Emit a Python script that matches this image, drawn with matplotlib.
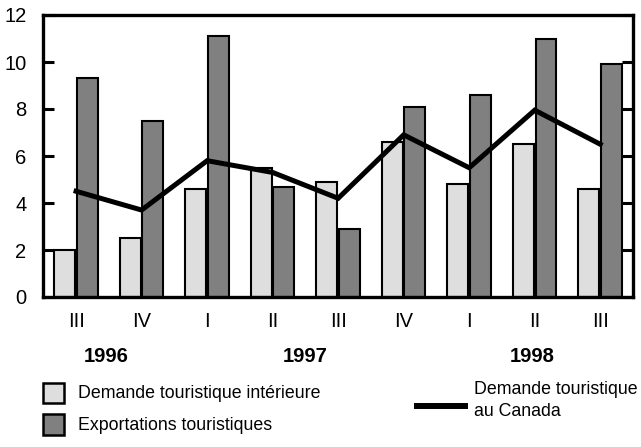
import numpy as np
import matplotlib
matplotlib.use("Agg")
import matplotlib.pyplot as plt
from matplotlib.patches import Rectangle
from matplotlib.lines import Line2D

plt.rcParams['font.family'] = ['Liberation Sans', 'DejaVu Sans']

quarters = ['III', 'IV', 'I', 'II', 'III', 'IV', 'I', 'II', 'III']
years = ['1996', '1997', '1998']
interieure = [2.0, 2.5, 4.6, 5.5, 4.9, 6.6, 4.8, 6.5, 4.6]
exportations = [9.3, 7.5, 11.1, 4.7, 2.9, 8.1, 8.6, 11.0, 9.9]
demande_canada = [4.5, 3.7, 5.8, 5.3, 4.2, 6.9, 5.5, 7.95, 6.5]

W, H = 641, 447
fig = plt.figure(figsize=(W / 100, H / 100), dpi=100)
ax = fig.add_axes([43 / W, 1 - 297 / H, (633 - 43) / W, (297 - 15) / H])

x = np.arange(len(quarters))
bw = 0.32
ax.bar(x - 0.172, interieure, bw, color='#dedede', edgecolor='black', linewidth=1.5, zorder=2)
ax.bar(x + 0.172, exportations, bw, color='#808080', edgecolor='black', linewidth=1.5, zorder=2)
ax.plot(x, demande_canada, color='black', linewidth=3.6, solid_joinstyle='miter', zorder=3)

ax.set_xlim(-0.505, 8.5)
ax.set_ylim(0, 12)
ax.set_yticks([0, 2, 4, 6, 8, 10, 12])
ax.tick_params(axis='y', direction='in', length=8, width=2.2, labelsize=14.5, pad=12,
               right=True, left=True)
ax.set_xticks(x, quarters)
ax.tick_params(axis='x', direction='in', length=7, width=2.2, labelsize=14.5, pad=11)
for s in ax.spines.values():
    s.set_linewidth(2.4)

for px, yr in zip([106, 305, 532], years):
    fig.text(px / W, 1 - 357 / H, yr, ha='center', va='center', fontsize=14.5,
             fontweight='bold')

# legend
fig.patches.append(Rectangle((43 / W, 1 - 403 / H), 21 / W, 20 / H, transform=fig.transFigure,
                             facecolor='#dedede', edgecolor='black', linewidth=1.8))
fig.patches.append(Rectangle((43 / W, 1 - 435 / H), 21 / W, 21 / H, transform=fig.transFigure,
                             facecolor='#808080', edgecolor='black', linewidth=1.8))
fig.text(78 / W, 1 - 393 / H, 'Demande touristique intérieure', va='center', fontsize=12.8)
fig.text(78 / W, 1 - 425 / H, 'Exportations touristiques', va='center', fontsize=12.8)
fig.lines.append(Line2D([417 / W, 465 / W], [1 - 406 / H, 1 - 406 / H], transform=fig.transFigure,
                        color='black', linewidth=4.3))
fig.text(474 / W, 1 - 389 / H, 'Demande touristique', va='center', fontsize=12.8)
fig.text(474 / W, 1 - 412 / H, 'au Canada', va='center', fontsize=12.8)

fig.savefig('out.png', dpi=100)
